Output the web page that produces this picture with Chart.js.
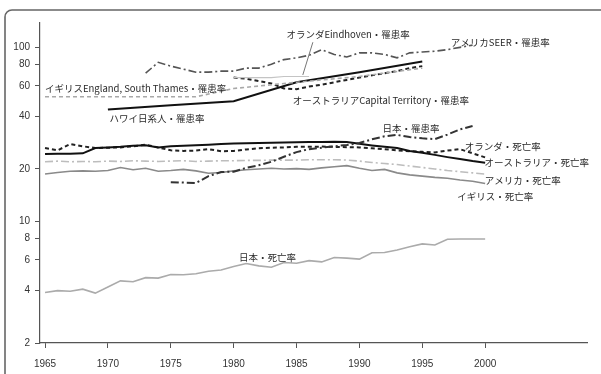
<!DOCTYPE html>
<html>
<head>
<meta charset="utf-8">
<script src="https://cdn.jsdelivr.net/npm/chart.js@4.4.1/dist/chart.umd.min.js"></script>
<style>
  html, body { margin: 0; padding: 0; background: #fff; }
  #wrap { width: 601px; height: 374px; }
</style>
</head>
<body>
<div id="wrap"><canvas id="c" width="601" height="374"></canvas></div>
<script>
// ---- tick labels ----
const xTickYears = [1965, 1970, 1975, 1980, 1985, 1990, 1995, 2000];
const yTickValues = [2, 4, 6, 8, 10, 20, 40, 60, 80, 100];

// ---- incidence series (罹患率) ----
const seerYears = [1973,1974,1975,1976,1977,1978,1979,1980,1981,1982,1983,1984,1985,1986,1987,1988,1989,1990,1991,1992,1993,1994,1995,1996,1997,1998,1999];
const seerRates = [71,82,78,75,72,72,73,73,76,76,80,85,87,90,97,91,88,93,93,91,87,93,94,95,97,100,103];

const eindhovenYears = [1980,1981,1982,1983,1984,1985,1986];
const eindhovenRates = [67,67,67,67,68,68,68];

const southThamesYears = [1965,1970,1975,1977,1980,1985,1990,1995];
const southThamesRates = [52,52,52,52,58,63,68,76];

const hawaiiYears = [1970,1975,1980,1985,1990,1995];
const hawaiiRates = [44,46.5,49,63,72,83];

const actYears = [1980,1981,1982,1983,1984,1985,1986,1987,1988,1989,1990,1991,1992,1993,1994,1995];
const actRates = [67,66,64,62,58,57.5,59.5,61,63,65,67,69,71,73,76,78];

const japanIncYears = [1975,1976,1977,1978,1979,1980,1981,1982,1983,1984,1985,1986,1987,1988,1989,1990,1991,1992,1993,1994,1995,1996,1997,1998,1999];
const japanIncRates = [16.8,16.7,16.6,18.2,19.2,19.3,20.3,21.0,22.0,23.5,25.0,26.0,26.5,27.0,27.5,28.2,29.6,30.8,31.4,30.5,30.0,29.7,31.5,33.8,35.3];

// ---- mortality series (死亡率), 1965-2000 ----
const mortYears = [1965,1966,1967,1968,1969,1970,1971,1972,1973,1974,1975,1976,1977,1978,1979,1980,1981,1982,1983,1984,1985,1986,1987,1988,1989,1990,1991,1992,1993,1994,1995,1996,1997,1998,1999,2000];
const netherlandsMort = [26.4,25.6,27.8,27.0,26.4,26.5,26.6,27.0,27.6,26.6,25.6,25.4,25.5,26.0,25.3,25.4,25.9,26.3,26.5,26.6,26.8,26.8,26.9,26.8,26.7,26.6,26.3,26.0,25.6,25.3,25.1,24.9,25.5,26.0,24.6,23.3];
const australiaMort = [24.4,24.5,24.5,24.6,26.4,26.6,26.8,27.2,27.4,26.6,27.0,27.2,27.4,27.6,27.8,28.0,28.1,28.2,28.3,28.4,28.5,28.6,28.6,28.7,28.6,27.9,27.3,26.8,26.4,25.4,24.8,24.1,23.4,22.8,22.2,21.7];
const usaMort = [22.0,22.2,22.0,22.1,22.0,22.2,22.1,22.3,22.2,22.1,22.2,22.3,22.1,22.2,22.3,22.3,22.4,22.4,22.5,22.5,22.5,22.6,22.6,22.6,22.5,22.2,21.8,21.5,21.2,20.8,20.4,20.0,19.6,19.3,19.0,18.7];
const ukMort = [18.7,19.1,19.4,19.5,19.4,19.6,20.4,19.8,20.2,19.4,19.6,19.9,19.5,18.9,19.1,19.5,19.8,20.0,20.2,20.0,20.1,19.9,20.3,20.6,20.9,20.2,19.6,19.9,19.0,18.5,18.2,17.9,17.7,17.3,17.0,16.5];
const japanMort = [3.9,4.0,3.97,4.08,3.87,4.2,4.55,4.5,4.75,4.72,4.95,4.93,5.0,5.17,5.25,5.5,5.73,5.55,5.45,5.8,5.75,5.95,5.85,6.2,6.15,6.07,6.6,6.62,6.85,7.15,7.42,7.32,7.9,7.92,7.92,7.92];

// ---- series annotations, anchored in data units (year, rate) ----
const seriesNotes = [
  { text: 'オランダEindhoven・罹患率', year: 1989.1, value: 119 },
  { text: 'アメリカSEER・罹患率', year: 2001.2, value: 107 },
  { text: 'イギリスEngland, South Thames・罹患率', year: 1972.2, value: 58.4 },
  { text: 'オーストラリアCapital Territory・罹患率', year: 1991.7, value: 49.8 },
  { text: 'ハワイ日系人・罹患率', year: 1973.9, value: 39.3 },
  { text: '日本・罹患率', year: 1994.1, value: 34.4 },
  { text: 'オランダ・死亡率', year: 2001.4, value: 27.1 },
  { text: 'オーストラリア・死亡率', year: 2004.1, value: 21.7 },
  { text: 'アメリカ・死亡率', year: 2003.0, value: 17.3 },
  { text: 'イギリス・死亡率', year: 2000.8, value: 14.0 },
  { text: '日本・死亡率', year: 1982.7, value: 6.24 }
];
const eindhovenLeader = { fromYear: 1986.3, fromValue: 107, toYear: 1985.5, toValue: 69.4 };

function pts(xs, ys) { return xs.map((x, i) => ({ x: x, y: ys[i] })); }

const DASH = [4, 3];
const DASHDOT = [8, 3, 2, 3];

const datasets = [
  { label: 'アメリカSEER・罹患率', data: pts(seerYears, seerRates), borderColor: '#555', borderWidth: 1.6, borderDash: DASHDOT },
  { label: 'オランダEindhoven・罹患率', data: pts(eindhovenYears, eindhovenRates), borderColor: '#c4c4c4', borderWidth: 1.2 },
  { label: 'イギリスEngland, South Thames・罹患率', data: pts(southThamesYears, southThamesRates), borderColor: '#a8a8a8', borderWidth: 1.6, borderDash: DASH },
  { label: 'ハワイ日系人・罹患率', data: pts(hawaiiYears, hawaiiRates), borderColor: '#111', borderWidth: 2 },
  { label: 'オーストラリアCapital Territory・罹患率', data: pts(actYears, actRates), borderColor: '#222', borderWidth: 2, borderDash: DASH },
  { label: '日本・罹患率', data: pts(japanIncYears, japanIncRates), borderColor: '#333', borderWidth: 2, borderDash: DASHDOT },
  { label: 'アメリカ・死亡率', data: pts(mortYears, usaMort), borderColor: '#bdbdbd', borderWidth: 1.6, borderDash: DASHDOT },
  { label: 'イギリス・死亡率', data: pts(mortYears, ukMort), borderColor: '#8a8a8a', borderWidth: 1.6 },
  { label: 'オーストラリア・死亡率', data: pts(mortYears, australiaMort), borderColor: '#111', borderWidth: 2 },
  { label: 'オランダ・死亡率', data: pts(mortYears, netherlandsMort), borderColor: '#222', borderWidth: 2, borderDash: DASH },
  { label: '日本・死亡率', data: pts(mortYears, japanMort), borderColor: '#ababab', borderWidth: 1.6 }
].map(d => Object.assign({ pointRadius: 0, tension: 0, fill: false }, d));

// page frame (top and left rules with a rounded corner)
const framePlugin = {
  id: 'frame',
  beforeDraw(chart) {
    const ctx = chart.ctx;
    ctx.save();
    ctx.fillStyle = '#fff';
    ctx.fillRect(0, 0, chart.width, chart.height);
    ctx.strokeStyle = '#666';
    ctx.lineWidth = 1.6;
    ctx.beginPath();
    ctx.moveTo(5, chart.height);
    ctx.lineTo(5, 17);
    ctx.arcTo(5, 10, 12, 10, 7);
    ctx.lineTo(chart.width, 10);
    ctx.stroke();
    ctx.restore();
  }
};

// series names written next to their lines
const notesPlugin = {
  id: 'notes',
  afterDatasetsDraw(chart) {
    const ctx = chart.ctx;
    const xs = chart.scales.x, ys = chart.scales.y;
    ctx.save();
    ctx.strokeStyle = '#777';
    ctx.lineWidth = 1;
    ctx.beginPath();
    ctx.moveTo(xs.getPixelForValue(eindhovenLeader.fromYear), ys.getPixelForValue(eindhovenLeader.fromValue));
    ctx.lineTo(xs.getPixelForValue(eindhovenLeader.toYear), ys.getPixelForValue(eindhovenLeader.toValue));
    ctx.stroke();
    ctx.font = '9.5px "Noto Sans CJK JP", "Noto Sans", sans-serif';
    ctx.fillStyle = '#2a2a2a';
    ctx.textAlign = 'center';
    ctx.textBaseline = 'middle';
    seriesNotes.forEach(n => {
      ctx.fillText(n.text, xs.getPixelForValue(n.year), ys.getPixelForValue(n.value));
    });
    ctx.restore();
  }
};

new Chart(document.getElementById('c'), {
  type: 'line',
  data: { datasets: datasets },
  options: {
    responsive: false,
    devicePixelRatio: 1,
    animation: false,
    layout: { padding: { top: 23, right: 14, left: 0, bottom: 0 } },
    plugins: { legend: { display: false }, tooltip: { enabled: false } },
    scales: {
      x: {
        type: 'linear',
        min: 1964.6,
        max: 2008.1,
        afterBuildTicks(scale) { scale.ticks = xTickYears.map(v => ({ value: v })); },
        afterFit(scale) { scale.height = 31; },
        ticks: {
          callback: v => String(v),
          font: { family: '"Liberation Sans", Arial, sans-serif', size: 10 },
          color: '#333',
          padding: 10,
          maxRotation: 0
        },
        grid: { drawOnChartArea: false, drawTicks: true, tickLength: 5, color: '#555' },
        border: { color: '#555', width: 1.2 }
      },
      y: {
        type: 'logarithmic',
        min: 2,
        max: 138,
        afterBuildTicks(scale) { scale.ticks = yTickValues.map(v => ({ value: v })); },
        afterFit(scale) { scale.width = 40; },
        ticks: {
          callback: v => String(v),
          font: { family: '"Liberation Sans", Arial, sans-serif', size: 10 },
          color: '#333',
          padding: 5
        },
        grid: { drawOnChartArea: false, drawTicks: true, tickLength: 5, color: '#555' },
        border: { color: '#555', width: 1.2 }
      }
    }
  },
  plugins: [framePlugin, notesPlugin]
});
</script>
</body>
</html>
